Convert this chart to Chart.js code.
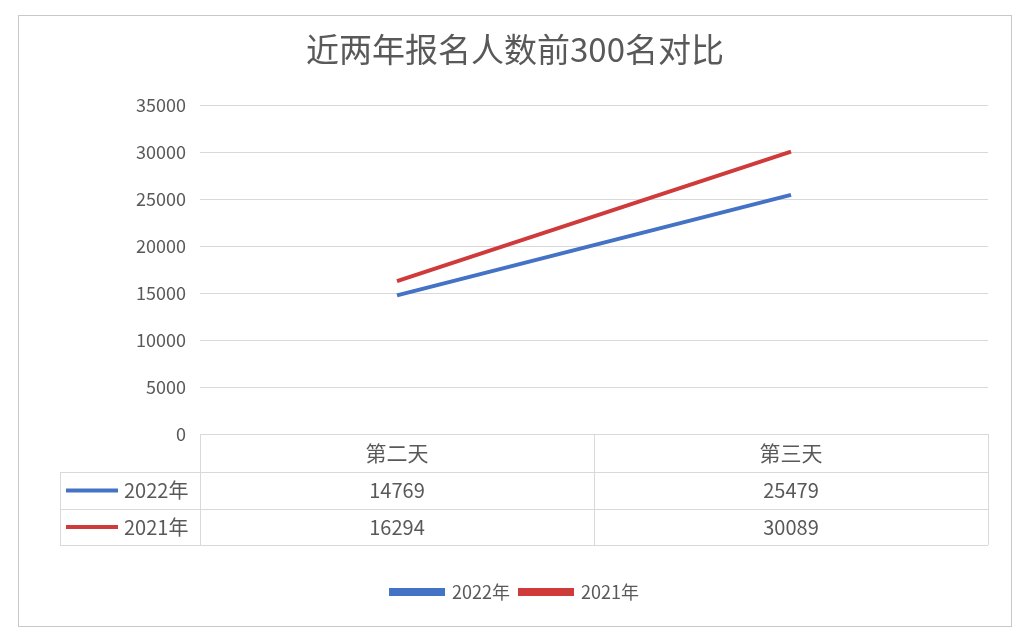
<!DOCTYPE html>
<html>
<head>
<meta charset="utf-8">
<script src="https://cdn.jsdelivr.net/npm/chart.js@4/dist/chart.umd.min.js"></script>
<style>
  body { margin: 0; background: #fff; }
  #wrap { position: relative; width: 1032px; height: 642px; }
  #frame { position: absolute; left: 18px; top: 15px; width: 994px; height: 612px; border: 1px solid #c8c8c8; box-sizing: border-box; pointer-events: none; }
</style>
</head>
<body>
<div id="wrap">
  <canvas id="canvasComparativo" width="1032" height="642"></canvas>
  <div id="frame"></div>
</div>
<script>
var titulo = '近两年报名人数前300名对比';
var dias = ['第二天', '第三天'];
var serie2022 = [14769, 25479];
var serie2021 = [16294, 30089];
var nombres = ['2022年', '2021年'];
var colores = ['#4472c4', '#cf3a3b'];

var fuente = "'Noto Sans CJK SC', 'Noto Sans', sans-serif";
var gris = '#595959';
var lineaTabla = '#d9d9d9';

// tabla de datos debajo del grafico
var pluginTabla = {
    id: 'tablaDatos',
    afterDraw: function (chart) {
        var ctx = chart.ctx;
        var area = chart.chartArea;
        var xs = chart.scales.x;
        var series = chart.data.datasets;
        var ancho = (area.right - area.left) / dias.length;
        var y0 = area.bottom;
        var filas = [y0, y0 + 38, y0 + 75, y0 + 111];
        var izq = 60;

        ctx.save();
        ctx.strokeStyle = lineaTabla;
        ctx.lineWidth = 1;
        ctx.beginPath();
        for (let i = 1; i < filas.length; i++) {
            ctx.moveTo(izq, filas[i] + 0.5);
            ctx.lineTo(area.right, filas[i] + 0.5);
        }
        ctx.moveTo(izq + 0.5, filas[1]);
        ctx.lineTo(izq + 0.5, filas[3]);
        for (let i = 0; i <= dias.length; i++) {
            let x = Math.round(area.left + ancho * i) + 0.5;
            ctx.moveTo(x, filas[0]);
            ctx.lineTo(x, filas[3]);
        }
        ctx.stroke();

        ctx.fillStyle = gris;
        ctx.textAlign = 'center';
        ctx.textBaseline = 'middle';
        for (let i = 0; i < dias.length; i++) {
            let x = xs.getPixelForValue(i);
            ctx.font = '21px ' + fuente;
            ctx.fillText(dias[i], x, (filas[0] + filas[1]) / 2);
            ctx.font = '20px ' + fuente;
            for (let s = 0; s < series.length; s++) {
                ctx.fillText(String(series[s].data[i]), x, (filas[s + 1] + filas[s + 2]) / 2);
            }
        }

        ctx.textAlign = 'left';
        ctx.font = '20px ' + fuente;
        for (let s = 0; s < series.length; s++) {
            let yc = (filas[s + 1] + filas[s + 2]) / 2;
            ctx.strokeStyle = series[s].borderColor;
            ctx.lineWidth = 4;
            ctx.beginPath();
            ctx.moveTo(66, yc);
            ctx.lineTo(118, yc);
            ctx.stroke();
            ctx.fillStyle = gris;
            ctx.fillText(series[s].label, 124, yc);
        }
        ctx.restore();
    }
};

var ctx = document.getElementById('canvasComparativo').getContext('2d');
var chartComparativo = new Chart(ctx, {
    type: 'line',
    data: {
        labels: dias,
        datasets: [{
            label: nombres[0],
            data: serie2022,
            borderColor: colores[0],
            backgroundColor: colores[0],
            borderWidth: 4,
            pointRadius: 0,
            fill: false,
            tension: 0
        }, {
            label: nombres[1],
            data: serie2021,
            borderColor: colores[1],
            backgroundColor: colores[1],
            borderWidth: 4,
            pointRadius: 0,
            fill: false,
            tension: 0
        }]
    },
    options: {
        responsive: false,
        animation: false,
        layout: { padding: { left: 42, right: 44, top: 0, bottom: 31 } },
        plugins: {
            title: {
                display: true,
                text: titulo,
                color: gris,
                font: { family: fuente, size: 33, weight: 'normal' },
                padding: { top: 30, bottom: 36 }
            },
            legend: {
                position: 'bottom',
                labels: {
                    color: gris,
                    font: { family: fuente, size: 18 },
                    boxWidth: 52,
                    boxHeight: 4,
                    padding: 10
                }
            },
            tooltip: { enabled: false }
        },
        scales: {
            x: {
                offset: true,
                grid: { display: false },
                border: { display: false },
                ticks: { display: false },
                afterFit: function (scale) { scale.height = 139; }
            },
            y: {
                min: 0,
                max: 35000,
                ticks: {
                    stepSize: 5000,
                    color: gris,
                    padding: 14,
                    font: { family: fuente, size: 18 },
                    callback: function (v) { return String(v); }
                },
                grid: { color: lineaTabla, drawTicks: false },
                border: { display: false },
                afterFit: function (scale) { scale.width = 158; }
            }
        }
    },
    plugins: [pluginTabla]
});
</script>
</body>
</html>
